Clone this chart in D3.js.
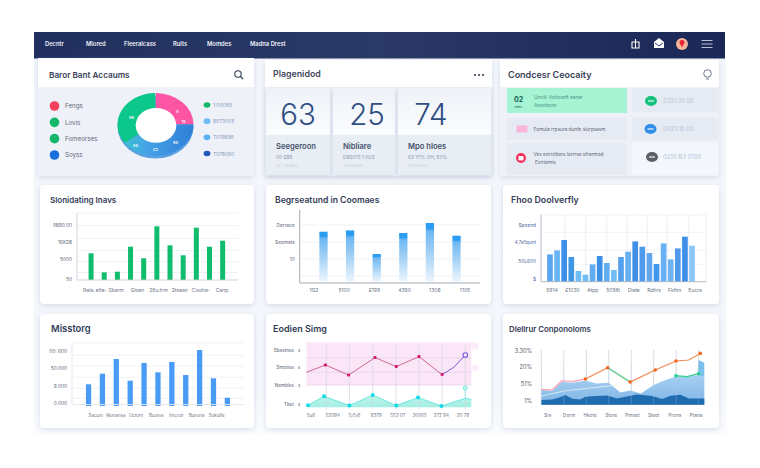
<!DOCTYPE html>
<html>
<head>
<meta charset="utf-8">
<script src="https://cdn.jsdelivr.net/npm/d3@7"></script>
<style>
html, body { margin: 0; padding: 0; background: #fff; }
svg { display: block; }
text { font-family: Inter, "Open Sans", sans-serif; }
</style>
</head>
<body>
<svg id="board" width="760" height="468"></svg>
<script>
const navLabels = ['Decntr', 'Mlored', 'Fleeralcass', 'Rults', 'Momdes', 'Madna Drest'];

const donutLabels = ['Fengs', 'Lovis', 'Fomeorses', 'Soyss'];
const donutLegendValues = ['1:00065', '8573005', 'T019896', 'T078090'];
const donutValues = [25, 40, 35];

const statValues = [63, 25, 74];
const statNames = ['Seegeroon', 'Nibliare', 'Mpo hloes'];
const statSubs = ['00 £89', 'D8S013 1 0U2', '63 Y1% OH, E0%'];
const statNotes = ['33 . 103993', '11 0331691', '1 1 D15523'];

const listLeft = ['Eomula rrpsura dunfe slurpsasm'];
const listRight = ['2331:31 00', '0021:10 00', '0251 B3 0100'];

const greenCats = ['Rala: efie-', 'Sbarm', 'Gloen', '26u:trm', '2tsean', 'Cixoha-', 'Canp'];
const greenValues = [26.7, 7.7, 8.3, 33.3, 21.7, 53.7, 34.7, 24.7, 52.3, 33.3, 39.3];
const greenTicks = [0.7, 20.7, 38.3, 54.7];
const greenTickLabels = ['50', '5000', '16K28', '5890.00'];

const fadeCats = ['1G2', '5100', '£199', '4390', '1308', '1105'];
const fadeValues = [50, 51.3, 27.7, 48.7, 58.7, 46];
const fadeTicks = [22.7, 39.7, 56.7];
const fadeTickLabels = ['10', 'Seemats', 'Derrace'];

const blueCats = ['5914', '£1030', 'Atpp', '5056t', 'Dlate', 'Rdhrs', 'Fkthn', 'Eucra'];
const blueValues = [27.3, 31.3, 41.7, 24.7, 10.7, 7, 17.3, 25.7, 18.7, 11.7, 24.7, 30, 40.3, 35, 28.7, 17.7, 38.3, 22.3, 33.3, 45, 36];
const blueShades = ['#5aa5ee', '#68b4f5', '#3f8fe8', '#3f97e6', '#70bcf7', '#70bcf7', '#62acf2', '#3d8fe6', '#62acf2', '#70bcf7', '#55a0ee', '#68b0f2', '#3f8fe8', '#4f9aec', '#62a6ee', '#3f97ee', '#68b0f5', '#6cb4f5', '#4f9aec', '#3f8fe8', '#8cc6f8'];
const blueTicks = [3, 21, 39.3, 56.3];
const blueTickLabels = ['$', '50L600', '4,7a1qunt', 'Spoend'];

const missCats = ['Sacum', 'Remansa', 'Ucrorn', 'Buoma', 'Intzzor', 'Bunona', 'Sokuße'];
const missValues = [21.7, 32.3, 47, 25.3, 43, 33.7, 44, 31, 56, 27.7, 8.3];
const missTicks = [2.7, 20, 38, 55.3];
const missTickLabels = ['0.000', '9.000', '50.000', '00: 600'];

const lineCats = ['5u6', '52094', '5/5/6', '9379', '553 07', '30005', '272 94', '20 79'];
const lineTicks = [3.7, 22.3, 40, 57.3];
const lineTickLabels = ['Tbet', 'Nombles', 'Smoties', 'Sbastnes'];
const crimsonX = [0.14, 0.96, 1.96, 3.1, 4.02, 5, 6];
const crimsonValues = [35, 42.3, 32.3, 49.7, 40.7, 50.7, 32.7];
const purpleX = [6, 6.5, 7];
const purpleValues = [32.7, 40, 52.3];
const cyanX = [0.21, 0.9, 2, 3, 4.02, 4.96, 5.97, 7, 7.26];
const cyanValues = [2, 11, 1.7, 12.3, 1.7, 9.7, 1.3, 9, 7.7];

const areaCats = ['Srs', 'Dorm', 'Hkote', 'Store', 'Pmoet', 'Sleet', 'Prons', 'Ptana'];
const areaTicks = [4, 20.7, 37.3, 54];
const areaTickLabels = ['1%', '51%', '20%', '3.30%'];
const darkX = [0, 0.47, 0.77, 1.07, 1.37, 1.74, 1.96, 2.48, 2.92, 3.37, 3.74, 4.26, 4.93, 5.37, 5.74, 6.19, 6.56, 7.25];
const darkValues = [4.7, 5.3, 7, 9.7, 6, 5.3, 8, 8.7, 9.3, 6.3, 8, 10.3, 8.7, 5.7, 9, 10, 6.3, 6.3];
const midX = [0, 0.47, 0.92, 1.37, 1.96, 2.48, 3, 3.52, 3.96, 4.43, 5, 5.44, 6.04, 6.48, 7, 7.25];
const midValues = [14.7, 13.7, 23, 22, 24, 21.3, 22, 12.3, 14.3, 11.3, 19.7, 24, 28.7, 28, 29.7, 28];
const capX = [6.95, 7, 7.25];
const capValues = [29.7, 44.7, 42];
const pinkX = [0, 0.47, 0.92, 1.37, 1.96];
const pinkValues = [15.3, 14.7, 24, 23, 25.7];
const orangeX = [1.96, 2.95, 3.95, 5.07, 5.99, 6.56, 7.07];
const orangeValues = [25.7, 37, 22.7, 34.7, 43.7, 44.7, 51.3];
const tealX = [5.99, 6.48, 7];
const tealValues = [29, 28, 31];
const paleX = [0, 1, 2, 3, 3.4];
const paleValues = [8.7, 13.7, 16.3, 18.7, 19.5];

const svg = d3.select('#board');
const defs = svg.append('defs');

function linearGrad(id, stops, x2, y2) {
    let g = defs.append('linearGradient').attr('id', id)
        .attr('x1', 0).attr('y1', 0).attr('x2', x2).attr('y2', y2);
    stops.forEach(s => g.append('stop').attr('offset', s[0]).attr('stop-color', s[1]).attr('stop-opacity', s[2] === undefined ? 1 : s[2]));
}
linearGrad('navGrad', [[0, '#22305f'], [0.5, '#2b3966'], [1, '#1b2756']], 1, 0);
linearGrad('fadeBar', [[0, '#2a9cf2'], [0.09, '#2a9cf2'], [0.14, '#6fb8f2'], [0.55, '#a9d4f6'], [1, '#eef6fd']], 0, 1);
linearGrad('donutBlue', [[0, '#38c2cf'], [0.3, '#46a4e6'], [1, '#2f7ed8']], 1, 0);
linearGrad('midFill', [[0, '#a6d0f2'], [1, '#7fb5e6']], 0, 1);
linearGrad('tealFill', [[0, '#bff3ea'], [1, '#a4efe2']], 0, 1);
linearGrad('statTop', [[0, '#eef2f8'], [1, '#fbfcfe']], 0, 1);
linearGrad('pageFade', [[0, '#f3f6fb'], [0.9, '#f4f7fb'], [1, '#fbfcfe']], 0, 1);

let shadow = defs.append('filter').attr('id', 'cardShadow')
    .attr('x', '-10%').attr('y', '-10%').attr('width', '120%').attr('height', '125%');
shadow.append('feDropShadow').attr('dx', 0).attr('dy', 1.5).attr('stdDeviation', 2.5)
    .attr('flood-color', '#8294b8').attr('flood-opacity', 0.28);

function label(x, y, str, size, fill, weight, anchor) {
    return svg.append('text').attr('x', x).attr('y', y).text(str)
        .attr('font-size', size).attr('fill', fill)
        .attr('font-weight', weight || 400)
        .attr('text-anchor', anchor || 'start');
}

function box(x, y, w, h, fill, r, shadowed) {
    let b = svg.append('rect').attr('x', x).attr('y', y).attr('width', w).attr('height', h)
        .attr('fill', fill).attr('rx', r || 0);
    if (shadowed) b.attr('filter', 'url(#cardShadow)');
    return b;
}

function card(x, y, w, h, title, titleX, size) {
    box(x, y, w, h, '#fff', 4, true);
    label(titleX, y + 18, title, size, '#333c57', 600);
}

function grid(g, x0, x1, y0, y1, ys, xs) {
    g.selectAll('.hg').data(ys).enter().append('line').attr('class', 'hg')
        .attr('x1', x0).attr('x2', x1).attr('y1', d => d).attr('y2', d => d)
        .attr('stroke', '#e9edf3').attr('stroke-width', 0.7);
    g.selectAll('.vg').data(xs || []).enter().append('line').attr('class', 'vg')
        .attr('y1', y0).attr('y2', y1).attr('x1', d => d).attr('x2', d => d)
        .attr('stroke', '#e3e8f0').attr('stroke-width', 0.7);
}

function yLabels(y, ticks, labels, x, color) {
    ticks.forEach((t, i) => label(x, y(t) + 2, labels[i], 4.8, color || '#5d6678', 400, 'end'));
}

function xLabels(cats, x0, x1, y, size) {
    let xp = d3.scalePoint().domain(cats).range([x0, x1]);
    cats.forEach(c => label(xp(c), y, c, size || 5, '#6b7486', 400, 'middle'));
}

function barChart(opts) {
    let g = svg.append('g');
    let x = d3.scaleBand().domain(d3.range(opts.values.length)).range(opts.xRange).padding(opts.padding);
    let y = d3.scaleLinear().domain([0, opts.max]).range(opts.yRange);
    grid(g, opts.axisX, opts.right, opts.yRange[1], opts.yRange[0], opts.grid, opts.vgrid);
    g.selectAll('.bar').data(opts.values).enter().append('rect').attr('class', 'bar')
        .attr('x', (d, i) => x(i)).attr('width', x.bandwidth())
        .attr('y', d => y(d)).attr('height', d => y(0) - y(d))
        .attr('fill', (d, i) => opts.colors ? opts.colors[i] : opts.color);
    g.append('line').attr('x1', opts.axisX).attr('x2', opts.axisX)
        .attr('y1', opts.yRange[1]).attr('y2', opts.axisY).attr('stroke', opts.axisColor).attr('stroke-width', 0.9);
    g.append('line').attr('x1', opts.axisX).attr('x2', opts.right)
        .attr('y1', opts.axisY).attr('y2', opts.axisY).attr('stroke', opts.axisColor).attr('stroke-width', 0.9);
    yLabels(y, opts.ticks, opts.tickLabels, opts.axisX - 5, opts.tickColor);
    return y;
}

// page and nav
box(34, 58, 692, 377, 'url(#pageFade)');
box(34, 32, 691, 26.5, 'url(#navGrad)');
const navX = [45, 86, 124, 173, 207, 250];
navLabels.forEach((n, i) => label(navX[i], 46.3, n, 5.8, '#eef1f8', 600));

svg.append('path').attr('d', 'M632 42h7v6h-7zM635.5 39v9').attr('fill', 'none').attr('stroke', '#fff').attr('stroke-width', 1.1);
svg.append('path').attr('d', 'M654 42l5-4 5 4v6h-10z').attr('fill', '#fff');
svg.append('path').attr('d', 'M655 43l4 3 4-3').attr('fill', 'none').attr('stroke', '#26346a').attr('stroke-width', 1);
svg.append('circle').attr('cx', 682).attr('cy', 44).attr('r', 6).attr('fill', '#f4b59c');
svg.append('path').attr('d', 'M682 40a2.5 2.5 0 0 1 2.5 2.5c0 1.6-1.6 2.4-2.5 5-0.9-2.6-2.5-3.4-2.5-5a2.5 2.5 0 0 1 2.5-2.5z').attr('fill', '#e8202f');
[40.5, 44, 47.5].forEach(y => svg.append('line').attr('x1', 701.5).attr('x2', 712.5).attr('y1', y).attr('y2', y).attr('stroke', '#c9d0e0').attr('stroke-width', 0.9));

// card 1, donut
box(38, 58, 216, 118, '#eef2f8', 3, true);
box(38, 58, 216, 29, '#fff');
label(49, 78, 'Baror Bant Accaums', 8.2, '#3a4258', 600);
svg.append('circle').attr('cx', 238).attr('cy', 74).attr('r', 3.2).attr('fill', 'none').attr('stroke', '#333c57').attr('stroke-width', 1.1);
svg.append('line').attr('x1', 240.5).attr('y1', 76.5).attr('x2', 243).attr('y2', 79).attr('stroke', '#333c57').attr('stroke-width', 1.3);

const legendColors = ['#f5405a', '#12b76a', '#12b76a', '#1a6fe0'];
const legendYs = d3.scalePoint().domain(donutLabels).range([106, 155]);
donutLabels.forEach((n, i) => {
    svg.append('circle').attr('cx', 54.5).attr('cy', legendYs(n)).attr('r', 4.8).attr('fill', legendColors[i]);
    label(65, legendYs(n) + 2.2, n, 6.2, '#5c667a');
});
const valueColors = ['#12b76a', '#6cbcf5', '#5cb0f2', '#2359b8'];
const valueYs = d3.scalePoint().domain(donutLegendValues).range([105, 153.5]);
donutLegendValues.forEach((n, i) => {
    svg.append('ellipse').attr('cx', 207).attr('cy', valueYs(n)).attr('rx', 3.4).attr('ry', 2.8).attr('fill', valueColors[i]);
    label(213, valueYs(n) + 2, n, 5, '#8a9cc0');
});

const pie = d3.pie().sort(null);
const arc = d3.arc().innerRadius(18.5).outerRadius(38).padAngle(0.012);
const donut = svg.append('g').attr('transform', 'translate(155.5,124.5) scale(1,0.83)');
const donutFill = ['#fb55a3', 'url(#donutBlue)', '#0cc78a'];
donut.append('ellipse').attr('cy', 3).attr('rx', 38).attr('ry', 38).attr('fill', '#5b9fe0');
donut.selectAll('.slice').data(pie(donutValues)).enter().append('path').attr('class', 'slice')
    .attr('d', arc).attr('fill', (d, i) => donutFill[i]);
donut.append('ellipse').attr('cx', 0.5).attr('cy', 1).attr('rx', 20.3).attr('ry', 21).attr('fill', '#fff');
const donutInner = [['8', 22, -16], ['15', 28, -4], ['85', 20, 22], ['£2', 0, 30], ['50', -20, 25], ['89', -24, -9]];
donutInner.forEach(t => label(155.5 + t[1], 124.5 + t[2] * 0.83 + 1.5, t[0], 4, '#eef7fb', 600, 'middle'));

// card 2, stat panels
box(265, 60, 227, 116, '#eef2f8', 3, true);
box(265, 60, 227, 27, '#fff');
label(273, 77, 'Plagenidod', 8.8, '#3f475c', 600);
[475, 479, 483].forEach(x => svg.append('circle').attr('cx', x).attr('cy', 75).attr('r', 1.1).attr('fill', '#3a4258'));
const statX = [266, 333, 398];
const statW = [64, 62, 93];
const statCenter = [298, 367, 431];
statValues.forEach((v, i) => {
    box(statX[i], 88, statW[i], 87, '#e9eef5', 1, true);
    box(statX[i], 88, statW[i], 47, 'url(#statTop)');
    label(statCenter[i], 125, v, 29.5, '#2f4f82', 300, 'middle');
    label(statX[i] + 10, 149, statNames[i], 7.6, '#44506a', 600);
    label(statX[i] + 10, 159, statSubs[i], 4.8, '#8a97ae');
    label(statX[i] + 10, 167, statNotes[i], 3.8, '#c2cad8');
});

// card 3, list
box(500, 60, 219, 116, '#eef2f8', 3, true);
box(500, 60, 219, 27, '#fff');
label(508, 78, 'Condcesr Ceocaity', 9, '#3a4258', 600);
svg.append('circle').attr('cx', 707.5).attr('cy', 73.5).attr('r', 3.8).attr('fill', '#fff').attr('stroke', '#4a5368').attr('stroke-width', 0.8);
svg.append('line').attr('x1', 706).attr('x2', 709).attr('y1', 79).attr('y2', 79).attr('stroke', '#4a5368').attr('stroke-width', 0.8);

box(507, 88, 120, 25, '#a6f4d3');
label(518.5, 102, '02', 7, '#12605a', 700, 'middle');
label(518.5, 107.5, 'eten', 3.4, '#12605a', 400, 'middle');
label(534, 99, 'Uncik Vorloseft sanar', 4.8, '#4d8f85');
label(534, 107, 'Asonlects', 4.8, '#4d8f85');
box(507, 118, 120, 22, '#e6ebf3');
box(516.5, 125.5, 11, 7, '#f9b6da');
label(533.5, 131, listLeft[0], 4.7, '#596276');
box(507, 143, 120, 32, '#e6ebf3');
svg.append('circle').attr('cx', 521).attr('cy', 158).attr('r', 5).attr('fill', '#f72b5c');
box(518.5, 156, 5, 4.4, '#fff');
label(533.5, 156, 'Ves eortzlbors lorrrse ofrarmod', 4.7, '#596276');
label(535, 164, 'Extrtemis', 4.7, '#596276');

const rightRows = [[88, 24, '#e6ebf3'], [118, 22, '#e6ebf3'], [143, 32, '#f3f6fb']];
const rightIcons = [[651, 101, '#14c27c'], [650.5, 129, '#2f8ee8'], [652, 157, '#5a5f68']];
listRight.forEach((t, i) => {
    box(632, rightRows[i][0], 86, rightRows[i][1], rightRows[i][2]);
    svg.append('ellipse').attr('cx', rightIcons[i][0]).attr('cy', rightIcons[i][1]).attr('rx', 6).attr('ry', 5).attr('fill', rightIcons[i][2]);
    svg.append('rect').attr('x', rightIcons[i][0] - 3).attr('y', rightIcons[i][1] - 1).attr('width', 6).attr('height', 2).attr('fill', '#fff').attr('opacity', 0.55);
    label(663, rightIcons[i][1] + 2.2, t, 6, '#b4c3d9');
});

// row 2
card(40, 185, 214, 119, 'Slonidating Inavs', 50, 8);
barChart({
    values: greenValues, xRange: [80.4, 233.3], padding: 0.62, max: 67, yRange: [280, 213],
    axisX: 77, axisY: 280, right: 238, color: '#0fbd6c', axisColor: '#c8ced8',
    grid: [213, 225.5, 238.5, 250.5, 261.5, 272.5],
    ticks: greenTicks, tickLabels: greenTickLabels
});
xLabels(greenCats, 95, 222, 292);

card(266, 185, 225, 119, 'Begrseatund in Coomaes', 275, 8.6);
barChart({
    values: fadeValues, xRange: [301, 479], padding: 0.69, max: 71.7, yRange: [281.7, 210],
    axisX: 299.7, axisY: 283, right: 480, color: 'url(#fadeBar)', axisColor: '#9aa1ad',
    grid: [225, 242, 259, 276],
    ticks: fadeTicks, tickLabels: fadeTickLabels
});
xLabels(fadeCats, 314, 465, 292);

card(503, 185, 216, 119, 'Fhoo Doolverfly', 511, 8.8);
barChart({
    values: blueValues, xRange: [545.7, 696.3], padding: 0.2, max: 66.7, yRange: [281.7, 215],
    axisX: 541, axisY: 281.7, right: 706, colors: blueShades, axisColor: '#aab2c0',
    grid: [215, 232.3, 250, 264.3], vgrid: [564.7, 585.7, 606.7, 627.3, 647.3, 667.3, 688.7, 706],
    ticks: blueTicks, tickLabels: blueTickLabels, tickColor: '#4c68a0'
});
xLabels(blueCats, 552, 695, 292);

// row 3
card(40, 314, 214, 114, 'Misstorg', 51, 9.4);
barChart({
    values: missValues, xRange: [77.3, 238.6], padding: 0.62, max: 63, yRange: [406, 343],
    axisX: 72, axisY: 404.5, right: 244, color: '#4a9bf5', axisColor: '#e2e6ed',
    grid: [343, 355.3, 366, 377.3, 388.3, 398.3],
    ticks: missTicks, tickLabels: missTickLabels
});
xLabels(missCats, 95.7, 216.7, 417, 4.4);

// line chart
card(266, 314, 225, 114, 'Eodien Simg', 273, 9);
const lineG = svg.append('g');
const lx = d3.scaleLinear().domain([0, 7]).range([303.2, 465.3]);
const ly = d3.scaleLinear().domain([0, 65]).range([407.3, 342.3]);
lineG.append('rect').attr('x', lx(0.14)).attr('width', lx(7.26) - lx(0.14))
    .attr('y', ly(65)).attr('height', ly(22.3) - ly(65)).attr('fill', '#fbe6f8');
lineG.append('rect').attr('x', lx(7.26)).attr('width', 7)
    .attr('y', ly(65)).attr('height', ly(58) - ly(65)).attr('fill', '#fbeefa');
lineG.append('rect').attr('x', lx(7.26)).attr('width', 7)
    .attr('y', ly(42)).attr('height', ly(37) - ly(42)).attr('fill', '#fbeefa');
const cyanPts = cyanX.map((x, i) => [x, cyanValues[i]]);
const lineFn = d3.line().x(d => lx(d[0])).y(d => ly(d[1]));
lineG.append('path').attr('fill', 'url(#tealFill)')
    .attr('d', d3.area().x(d => lx(d[0])).y0(ly(0)).y1(d => ly(d[1]))(cyanPts));
[1, 2, 3, 4, 5, 6, 7].forEach(i => lineG.append('line').attr('x1', lx(i)).attr('x2', lx(i))
    .attr('y1', ly(62)).attr('y2', ly(-2)).attr('stroke', '#d3d5e3').attr('stroke-width', 0.7));
[49.3, 35, 22.3].forEach(v => lineG.append('line').attr('x1', lx(0.14)).attr('x2', lx(7.26))
    .attr('y1', ly(v)).attr('y2', ly(v)).attr('stroke', '#e4cfe4').attr('stroke-width', 0.7));
lineG.append('path').attr('fill', 'none').attr('stroke', '#c85a86').attr('stroke-width', 0.9)
    .attr('d', lineFn(crimsonX.map((x, i) => [x, crimsonValues[i]])));
lineG.append('path').attr('fill', 'none').attr('stroke', '#7a5bd8').attr('stroke-width', 1)
    .attr('d', lineFn(purpleX.map((x, i) => [x, purpleValues[i]])));
lineG.append('path').attr('fill', 'none').attr('stroke', '#5fe4de').attr('stroke-width', 0.9)
    .attr('d', lineFn(cyanPts));
lineG.selectAll('.crimsonDot').data(crimsonX.slice(1)).enter().append('rect').attr('class', 'crimsonDot')
    .attr('x', d => lx(d) - 1.5).attr('width', 3).attr('height', 3)
    .attr('y', (d, i) => ly(crimsonValues[i + 1]) - 1.5).attr('rx', 1).attr('fill', '#d61a6b');
lineG.selectAll('.cyanDot').data(cyanX.slice(0, 7)).enter().append('circle').attr('class', 'cyanDot')
    .attr('cx', d => lx(d)).attr('cy', (d, i) => ly(cyanValues[i])).attr('r', 2).attr('fill', '#12dbe8');
lineG.append('circle').attr('cx', lx(7)).attr('cy', ly(52.3)).attr('r', 2.3)
    .attr('fill', '#f2e8fb').attr('stroke', '#7a5bd8').attr('stroke-width', 1.1);
lineG.append('line').attr('x1', lx(7)).attr('x2', lx(7)).attr('y1', ly(19.3)).attr('y2', ly(9)).attr('stroke', '#8eecdf').attr('stroke-width', 0.8);
lineG.append('circle').attr('cx', lx(7)).attr('cy', ly(19.3)).attr('r', 2)
    .attr('fill', '#c6f6ee').attr('stroke', '#5fe4d4').attr('stroke-width', 0.8);
lineTicks.forEach((t, i) => {
    label(294, ly(t) + 2, lineTickLabels[i], 4.6, '#555e70', 400, 'end');
    label(299, ly(t) + 2, '4', 4, '#555e70', 400, 'middle');
});
xLabels(lineCats, 311, 463, 417, 4.6);

// area chart
card(503, 314, 216, 114, 'Dlellrur Conponoloms', 509, 7.8);
const areaG = svg.append('g');
const ax = d3.scaleLinear().domain([0, 7]).range([541.3, 698.7]);
const ay = d3.scaleLinear().domain([0, 56]).range([404.7, 348.7]);
const toPts = (xs, vs) => xs.map((x, i) => [x, vs[i]]);
const areaFn = d3.area().x(d => ax(d[0])).y0(ay(0)).y1(d => ay(d[1]));
const aLine = d3.line().x(d => ax(d[0])).y(d => ay(d[1]));
d3.range(0, 8).forEach(i => areaG.append('line').attr('x1', ax(i)).attr('x2', ax(i))
    .attr('y1', ay(55)).attr('y2', ay(0)).attr('stroke', '#cfd5df').attr('stroke-width', 0.8));
areaG.append('path').attr('fill', '#7cc0ec').attr('d', d3.area().x(d => ax(d[0])).y0(ay(28)).y1(d => ay(d[1]))(toPts(capX, capValues)));
areaG.append('path').attr('fill', 'url(#midFill)').attr('d', areaFn(toPts(midX, midValues)));
areaG.append('path').attr('fill', '#1f6bb0').attr('d', areaFn(toPts(darkX, darkValues)));
d3.range(0, 8).forEach(i => areaG.append('line').attr('x1', ax(i)).attr('x2', ax(i))
    .attr('y1', ay(40)).attr('y2', ay(0)).attr('stroke', '#b9c6d6').attr('stroke-width', 0.5).attr('opacity', 0.6));
areaG.append('path').attr('fill', 'none').attr('stroke', '#e8f3ee').attr('stroke-width', 0.8).attr('d', aLine(toPts(paleX, paleValues)));
areaG.append('path').attr('fill', 'none').attr('stroke', '#f9a6b6').attr('stroke-width', 1.3).attr('d', aLine(toPts(pinkX, pinkValues)));
areaG.append('path').attr('fill', 'none').attr('stroke', '#f08a50').attr('stroke-width', 1.2).attr('d', aLine(toPts(orangeX, orangeValues)));
areaG.append('path').attr('fill', 'none').attr('stroke', '#5cdcaa').attr('stroke-width', 1.4).attr('d', aLine(toPts(orangeX.slice(1, 3), orangeValues.slice(1, 3))));
areaG.append('path').attr('fill', 'none').attr('stroke', '#2fd08e').attr('stroke-width', 1.3).attr('d', aLine(toPts(tealX, tealValues)));
areaG.selectAll('.orangeDot').data(toPts(orangeX, orangeValues).filter(d => d[0] !== 6.56)).enter().append('circle').attr('class', 'orangeDot')
    .attr('cx', d => ax(d[0])).attr('cy', d => ay(d[1])).attr('r', 1.8).attr('fill', '#f2681e');
areaG.selectAll('.tealDot').data([toPts(tealX, tealValues)[0], toPts(tealX, tealValues)[2]]).enter().append('circle').attr('class', 'tealDot')
    .attr('cx', d => ax(d[0])).attr('cy', d => ay(d[1])).attr('r', 1.8).attr('fill', '#1fd08a');
areaTicks.forEach((t, i) => label(532, ay(t) + 2, areaTickLabels[i], 5.6, '#4e566a', 400, 'end'));
xLabels(areaCats, 547.7, 696, 417, 4.8);
</script>
</body>
</html>
